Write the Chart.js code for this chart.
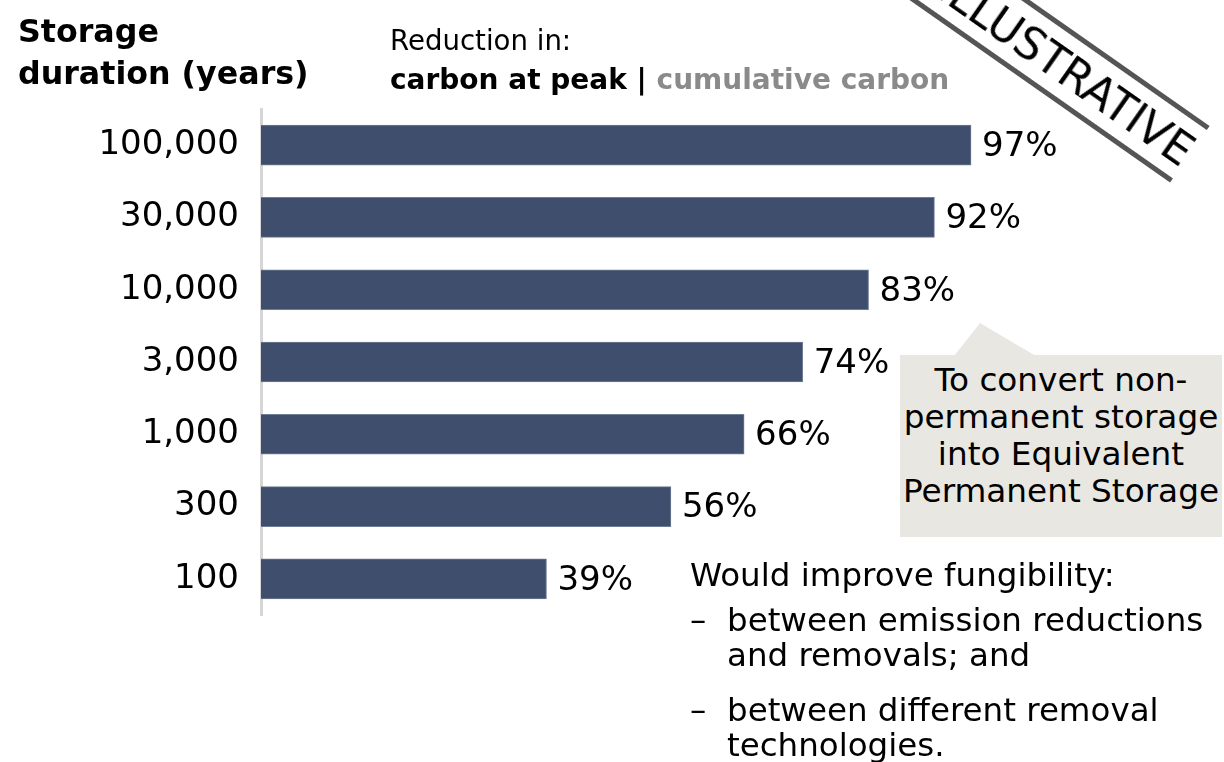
<!DOCTYPE html>
<html>
<head>
<meta charset="utf-8">
<script src="https://cdn.jsdelivr.net/npm/chart.js@4.4.1/dist/chart.umd.min.js"></script>
<style>
  html, body { margin: 0; padding: 0; background: #fff; }
  body { width: 1224px; height: 762px; position: relative; overflow: hidden; font-family: "DejaVu Sans", Verdana, sans-serif; color: #000; }
  #wrap { position: absolute; left: 0; top: 0; width: 1224px; height: 762px; }
  .abs { position: absolute; white-space: nowrap; }
  #title { left: 18px; top: 10px; font-size: 31.7px; font-weight: bold; line-height: 42px; }
  #sub1 { left: 390px; top: 24px; font-size: 27.6px; line-height: 34px; }
  #sub2 { left: 390px; top: 62px; font-size: 28px; font-weight: bold; line-height: 36px; }
  #sub2 .grey { color: #8a8a8a; }
  #callout { left: 900px; top: 355px; width: 322px; height: 182px; background: #E9E7E1; }
  #pointer { position: absolute; left: 0; top: 0; }
  #callText { left: 900px; top: 362px; width: 322px; font-size: 32.7px; line-height: 37px; text-align: center; white-space: normal; }
  #bul { left: 690px; top: 558px; font-size: 32.5px; line-height: 35px; }
  .item { position: relative; padding-left: 37px; }
  .i1 { margin-top: 10px; }
  .i2 { margin-top: 20px; }
  .item .dash { position: absolute; left: 0; top: 0; }
  #stamp { left: 826px; top: 4.5px; width: 400px; height: 69px; box-sizing: border-box; border-top: 5px solid #555; border-bottom: 5px solid #555; transform: rotate(35deg); transform-origin: 50% 50%; font-size: 44px; line-height: 62px; text-align: right; padding-right: 0px; }
</style>
</head>
<body>
<div id="wrap"><canvas id="c" width="1224" height="762"></canvas></div>
<svg id="pointer" width="1224" height="762"><polygon points="980,323 954,356 1036,356" fill="#E9E7E1"/></svg>
<div id="callout" class="abs"></div>
<div id="callText" class="abs">To convert non-<br>permanent storage<br>into Equivalent<br>Permanent Storage</div>
<div id="title" class="abs">Storage<br>duration (years)</div>
<div id="sub1" class="abs">Reduction in:</div>
<div id="sub2" class="abs">carbon at peak | <span class="grey">cumulative carbon</span></div>
<div id="bul" class="abs">
  <div>Would improve fungibility:</div>
  <div class="item i1"><span class="dash">–</span>between emission reductions<br>and removals; and</div>
  <div class="item i2"><span class="dash">–</span>between different removal<br>technologies.</div>
</div>
<div id="stamp" class="abs">ILLUSTRATIVE</div>
<script>
const durations = ["100,000", "30,000", "10,000", "3,000", "1,000", "300", "100"];
const reductionAtPeak = [97, 92, 83, 74, 66, 56, 39];

const valueLabels = {
  id: 'valueLabels',
  afterDatasetsDraw(chart) {
    const ctx = chart.ctx;
    const meta = chart.getDatasetMeta(0);
    ctx.save();
    ctx.font = '34px "DejaVu Sans", Verdana, sans-serif';
    ctx.fillStyle = '#000';
    ctx.textAlign = 'left';
    ctx.textBaseline = 'middle';
    meta.data.forEach((bar, i) => {
      ctx.fillText(reductionAtPeak[i] + '%', bar.x + 11, bar.y + 2);
    });
    ctx.restore();
  }
};

new Chart(document.getElementById('c'), {
  type: 'bar',
  data: {
    labels: durations,
    datasets: [{
      data: reductionAtPeak,
      backgroundColor: '#3F4E6D',
      borderColor: '#6F7C95',
      borderWidth: 1,
      borderSkipped: 'left',
      barThickness: 40
    }]
  },
  options: {
    indexAxis: 'y',
    responsive: false,
    animation: false,
    devicePixelRatio: 1,
    layout: { padding: { top: 109, bottom: 147, left: 0, right: 231 } },
    plugins: { legend: { display: false }, tooltip: { enabled: false } },
    scales: {
      x: { display: false, min: 0, max: 100 },
      y: {
        afterFit(scale) { scale.width = 261; },
        grid: { display: false, drawTicks: false },
        border: { display: true, color: '#D6D6D6', width: 3 },
        ticks: {
          padding: 22,
          color: '#000',
          font: { family: '"DejaVu Sans", Verdana, sans-serif', size: 34 }
        }
      }
    }
  },
  plugins: [valueLabels]
});
</script>
</body>
</html>
